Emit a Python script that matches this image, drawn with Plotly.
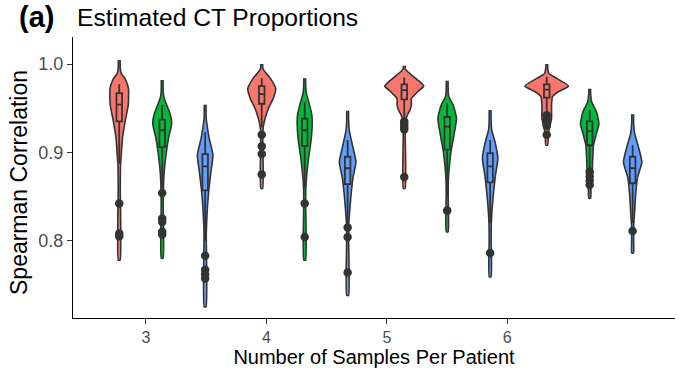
import plotly.graph_objects as go

# ---- data ----
tick_labels = ["3", "4", "5", "6"]
tick_values = [3, 4, 5, 6]
series_names = ["Method A", "Method B", "Method C"]
series_colors = ["#F8766D", "#00BA38", "#619CFF"]

# violin density profiles: y levels (top -> bottom) and density half-widths (arbitrary units)
red3_y = [1.0045, 0.995, 0.9894, 0.983, 0.9725, 0.9536, 0.9347, 0.9158, 0.897, 0.886, 0.86, 0.778]
red3_w = [0.9, 1.0, 2.0, 6.0, 9.2, 9.0, 5.8, 3.2, 2.0, 1.3, 1.0, 0.9]
green3_y = [0.982, 0.97, 0.963, 0.954, 0.944, 0.933, 0.916, 0.897, 0.878, 0.863, 0.84, 0.780]
green3_w = [0.9, 1.0, 1.6, 4.3, 7.8, 9.5, 6.3, 3.8, 2.0, 1.3, 1.0, 0.9]
blue3_y = [0.954, 0.94, 0.933, 0.916, 0.897, 0.878, 0.859, 0.840, 0.821, 0.806, 0.725]
blue3_w = [0.9, 1.0, 1.6, 4.0, 7.8, 5.8, 3.8, 2.4, 1.5, 1.1, 0.9]

red4_y = [1.0, 0.996, 0.993, 0.984, 0.972, 0.961, 0.950, 0.9385, 0.929, 0.92, 0.859]
red4_w = [0.9, 1.0, 2.0, 8.5, 14.0, 11.5, 6.8, 3.4, 1.6, 1.0, 0.9]
green4_y = [0.984, 0.975, 0.967, 0.954, 0.942, 0.931, 0.912, 0.893, 0.874, 0.859, 0.84, 0.778]
green4_w = [0.9, 1.0, 1.6, 4.8, 7.2, 7.5, 6.2, 3.8, 2.0, 1.1, 1.0, 0.9]
blue4_y = [0.947, 0.935, 0.925, 0.908, 0.889, 0.871, 0.852, 0.833, 0.818, 0.80, 0.738]
blue4_w = [0.9, 1.0, 1.6, 4.8, 8.3, 5.3, 3.4, 2.0, 1.1, 1.0, 0.9]

red5_y = [0.998, 0.995, 0.993, 0.9875, 0.980, 0.975, 0.9686, 0.961, 0.9536, 0.948, 0.942, 0.9366, 0.92, 0.859]
red5_w = [0.9, 1.0, 2.0, 7.5, 15.5, 19.5, 13.5, 7.2, 7.2, 5.8, 3.0, 1.6, 1.0, 0.9]
green5_y = [0.981, 0.97, 0.963, 0.954, 0.9385, 0.9196, 0.9007, 0.882, 0.867, 0.85, 0.810]
green5_w = [0.9, 1.0, 1.6, 5.8, 9.3, 6.8, 3.8, 2.0, 1.1, 1.0, 0.9]
blue5_y = [0.948, 0.935, 0.925, 0.912, 0.893, 0.874, 0.855, 0.8366, 0.818, 0.80, 0.759]
blue5_w = [0.9, 1.0, 1.6, 4.8, 7.7, 5.3, 3.4, 2.0, 1.1, 1.0, 0.9]

red6_y = [1.0, 0.995, 0.9894, 0.984, 0.975, 0.9686, 0.963, 0.9536, 0.9385, 0.929, 0.9215, 0.908]
red6_w = [0.9, 1.0, 2.0, 9.5, 21.8, 11.5, 5.8, 4.8, 4.8, 3.0, 1.6, 0.9]
green6_y = [0.972, 0.965, 0.957, 0.946, 0.932, 0.9196, 0.908, 0.889, 0.871, 0.859, 0.848]
green6_w = [0.9, 1.0, 2.0, 6.8, 9.2, 6.3, 3.8, 2.9, 2.4, 1.3, 0.9]
blue6_y = [0.943, 0.932, 0.9215, 0.908, 0.889, 0.871, 0.852, 0.833, 0.818, 0.80, 0.786]
blue6_w = [0.9, 1.0, 2.0, 5.3, 9.2, 4.8, 3.0, 2.0, 1.1, 1.0, 0.9]

# box stats: [lower whisker, q1, median, q3, upper whisker]
red3_box = [0.887, 0.935, 0.954, 0.967, 0.977]
green3_box = [0.86, 0.906, 0.925, 0.937, 0.954]
blue3_box = [0.80, 0.857, 0.884, 0.898, 0.923]
red4_box = [0.928, 0.955, 0.966, 0.975, 0.984]
green4_box = [0.86, 0.907, 0.925, 0.938, 0.957]
blue4_box = [0.82, 0.864, 0.882, 0.895, 0.914]
red5_box = [0.938, 0.960, 0.9705, 0.977, 0.9846]
green5_box = [0.85, 0.903, 0.929, 0.940, 0.9555]
blue5_box = [0.82, 0.866, 0.884, 0.899, 0.914]
red6_box = [0.944, 0.962, 0.971, 0.977, 0.9856]
green6_box = [0.88, 0.908, 0.924, 0.935, 0.948]
blue6_box = [0.82, 0.865, 0.882, 0.895, 0.908]

# outliers
red3_out = [0.842, 0.808, 0.805]
green3_out = [0.854, 0.825, 0.821, 0.810, 0.807]
blue3_out = [0.783, 0.767, 0.762, 0.757]
red4_out = [0.920, 0.907, 0.898, 0.875]
green4_out = [0.842, 0.804]
blue4_out = [0.815, 0.804, 0.764]
red5_out = [0.935, 0.932, 0.929, 0.926, 0.872]
green5_out = [0.834]
blue5_out = [0.786]
red6_out = [0.942, 0.938, 0.934, 0.930, 0.920]
green6_out = [0.878, 0.873, 0.868, 0.863]
blue6_out = [0.811]

violins = [
    [(red3_y, red3_w, red3_box, red3_out), (green3_y, green3_w, green3_box, green3_out), (blue3_y, blue3_w, blue3_box, blue3_out)],
    [(red4_y, red4_w, red4_box, red4_out), (green4_y, green4_w, green4_box, green4_out), (blue4_y, blue4_w, blue4_box, blue4_out)],
    [(red5_y, red5_w, red5_box, red5_out), (green5_y, green5_w, green5_box, green5_out), (blue5_y, blue5_w, blue5_box, blue5_out)],
    [(red6_y, red6_w, red6_box, red6_out), (green6_y, green6_w, green6_box, green6_out), (blue6_y, blue6_w, blue6_box, blue6_out)],
]

# ---- layout geometry ----
X_RANGE = [2.394, 7.393]
Y_RANGE = [0.7124, 1.0306]
GROUP_START = 2.778
GROUP_STEP = 1.1833
DODGE = 0.3567
WIDTH_SCALE = 1 / 120.4
BOX_W = 0.046
OUTLINE = "#333333"
FONT = "Liberation Sans, Arial, Helvetica, sans-serif"
PLOT_W, PLOT_H = 602, 281

fig = go.Figure()
box_traces = []
pt_traces = []
for gi, group in enumerate(violins):
    for si, (vy, vw, bx, outs) in enumerate(group):
        cx = GROUP_START + gi * GROUP_STEP + si * DODGE
        xs = [cx + w * WIDTH_SCALE for w in vw] + [cx - w * WIDTH_SCALE for w in reversed(vw)]
        ys = list(vy) + list(reversed(vy))
        fig.add_trace(go.Scatter(
            x=xs, y=ys, mode="lines", fill="toself",
            fillcolor=series_colors[si],
            line=dict(color=OUTLINE, width=1.6, shape="spline", smoothing=0.5),
            hoverinfo="skip", showlegend=False,
        ))
        # boxes and outliers on an overlaid subplot so they sit above the violins
        box_traces.append(go.Box(
            x=[cx], lowerfence=[bx[0]], q1=[bx[1]], median=[bx[2]], q3=[bx[3]], upperfence=[bx[4]],
            orientation="v", width=BOX_W, whiskerwidth=0, boxpoints=False,
            fillcolor="rgba(0,0,0,0)", line=dict(color=OUTLINE, width=1.8),
            xaxis="x2", yaxis="y2", showlegend=False, hoverinfo="skip",
        ))
        pt_traces.append(go.Scatter(
            x=[cx] * len(outs), y=outs, mode="markers",
            marker=dict(color=OUTLINE, size=8.5, line=dict(width=0)),
            xaxis="x2", yaxis="y2", showlegend=False, hoverinfo="skip",
        ))

for t in box_traces + pt_traces:
    fig.add_trace(t)

fig.update_layout(
    width=679, height=375,
    margin=dict(l=73, r=4, t=37, b=57, autoexpand=False),
    paper_bgcolor="white", plot_bgcolor="white",
    boxmode="overlay",
    font=dict(family=FONT, color="black"),
    showlegend=False,
    xaxis=dict(
        range=X_RANGE, tickmode="array", tickvals=tick_values, ticktext=tick_labels,
        showgrid=False, zeroline=False, showline=True, linecolor="black", linewidth=1.2,
        ticks="outside", ticklen=5, tickcolor="#333333", tickwidth=1.1, automargin=False,
        tickfont=dict(size=16, color="#4D4D4D", family=FONT),
        title=dict(text="Number of Samples Per Patient", font=dict(size=20, color="black", family=FONT), standoff=4),
    ),
    yaxis=dict(
        range=Y_RANGE, tickmode="array", tickvals=[0.8, 0.9, 1.0], ticktext=["0.8", "0.9", "1.0"],
        showgrid=False, zeroline=False, showline=True, linecolor="black", linewidth=1.2,
        ticks="outside", ticklen=5, tickcolor="#333333", tickwidth=1.1, automargin=False,
        tickfont=dict(size=18, color="#4D4D4D", family=FONT),
    ),
    xaxis2=dict(overlaying="x", range=X_RANGE, visible=False, automargin=False),
    yaxis2=dict(overlaying="y", range=Y_RANGE, visible=False, automargin=False),
)

fig.add_annotation(text="Spearman Correlation", xref="paper", yref="paper",
                   x=(19 - 73) / PLOT_W, y=1 - (183 - 37) / PLOT_H, xanchor="center", yanchor="middle",
                   textangle=-90, showarrow=False, font=dict(size=23, color="black", family=FONT))
fig.add_annotation(text="<b>(a)</b>", xref="paper", yref="paper",
                   x=(17 - 73) / PLOT_W, y=1 + (37 - 17) / PLOT_H, xanchor="left", yanchor="middle",
                   showarrow=False, font=dict(size=29, color="black", family=FONT))
fig.add_annotation(text="Estimated CT Proportions", xref="paper", yref="paper",
                   x=(75 - 73) / PLOT_W, y=1 + (37 - 17) / PLOT_H, xanchor="left", yanchor="middle",
                   showarrow=False, font=dict(size=24.6, color="black", family=FONT))

fig.write_html("out.html", config={"displayModeBar": False},
               post_script="document.body.style.margin='0';document.body.style.padding='0';")
